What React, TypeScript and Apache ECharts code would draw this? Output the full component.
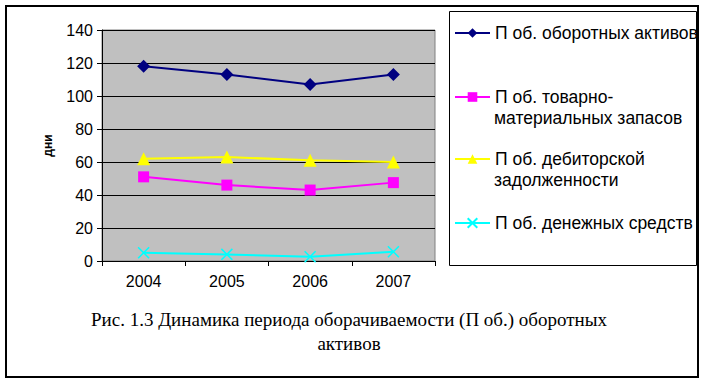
import React, { useEffect, useRef } from "react";
import * as echarts from "echarts";

const years = ["2004", "2005", "2006", "2007"];
const currentAssets = [118, 113, 107, 113];
const inventories = [51, 46, 43, 47.5];
const receivables = [62, 63, 61, 60];
const cash = [5, 4, 2.6, 5.6];

const seriesNames = [
  "П об. оборотных активов",
  "П об. товарно-материальных запасов",
  "П об. дебиторской задолженности",
  "П об. денежных средств",
];
const legendFirstLines = [
  "П об. оборотных активов",
  "П об. товарно-",
  "П об. дебиторской",
  "П об. денежных средств",
];
const legendSecondLines = ["", "материальных запасов", "задолженности", ""];
const captionLines = [
  "Рис. 1.3 Динамика периода оборачиваемости (П об.) оборотных",
  "активов",
];

const SANS = "Liberation Sans, Arial, sans-serif";
const SERIF = "Liberation Serif, Times New Roman, serif";

export default function App() {
  const ref = useRef<HTMLDivElement>(null);
  useEffect(() => {
    if (!ref.current) return;
    const chart = echarts.init(ref.current, undefined, { renderer: "svg" });
    const legendCenters = [33, 97, 159, 223];
    const crossPath = "path://M0,0L10,10M10,0L0,10";
    const option: any = {
      animation: false,
      backgroundColor: "#ffffff",
      grid: {
        left: 102,
        top: 30,
        width: 333,
        height: 231,
        show: true,
        backgroundColor: "#C0C0C0",
        borderColor: "#808080",
        borderWidth: 1,
      },
      xAxis: {
        type: "category",
        data: years,
        boundaryGap: true,
        axisLine: { show: true, lineStyle: { color: "#000", width: 1 } },
        axisTick: { show: true, alignWithLabel: false, length: 5, lineStyle: { color: "#000" } },
        axisLabel: { color: "#000", fontSize: 16, fontFamily: SANS, margin: 12 },
        splitLine: { show: false },
      },
      yAxis: {
        type: "value",
        min: 0,
        max: 140,
        interval: 20,
        name: "дни",
        nameLocation: "middle",
        nameRotate: 90,
        nameGap: 48,
        nameTextStyle: { color: "#000", fontSize: 12, fontWeight: "bold", fontFamily: SANS },
        axisLine: { show: true, lineStyle: { color: "#000", width: 1 } },
        axisTick: { show: true, length: 5, lineStyle: { color: "#000" } },
        axisLabel: { color: "#000", fontSize: 16, fontFamily: SANS, margin: 9 },
        splitLine: { show: true, lineStyle: { color: "#000", width: 1 } },
      },
      legend: seriesNames.map((name, i) => ({
        data: [name],
        left: 454,
        top: legendCenters[i] - 10,
        padding: 0,
        itemWidth: 35,
        itemHeight: 12,
        itemGap: 0,
        selectedMode: false,
        formatter: () => legendFirstLines[i],
        textStyle: { color: "#000", fontSize: 17.5, fontFamily: SANS, lineHeight: 20 },
      })),
      series: [
        {
          name: seriesNames[0],
          type: "line",
          data: currentAssets,
          symbol: "diamond",
          symbolSize: 13,
          lineStyle: { color: "#000080", width: 2 },
          itemStyle: { color: "#000080" },
        },
        {
          name: seriesNames[1],
          type: "line",
          data: inventories,
          symbol: "rect",
          symbolSize: 11,
          lineStyle: { color: "#FF00FF", width: 2 },
          itemStyle: { color: "#FF00FF" },
        },
        {
          name: seriesNames[2],
          type: "line",
          data: receivables,
          symbol: "triangle",
          symbolSize: 13,
          lineStyle: { color: "#FFFF00", width: 2 },
          itemStyle: { color: "#FFFF00" },
        },
        {
          name: seriesNames[3],
          type: "line",
          data: cash,
          symbol: crossPath,
          symbolSize: 11,
          lineStyle: { color: "#00FFFF", width: 2 },
          itemStyle: { color: "#00FFFF", borderColor: "#00FFFF", borderWidth: 1.5 },
        },
      ],
      graphic: [
        {
          type: "rect",
          shape: { x: 6, y: 6, width: 692, height: 371 },
          style: { fill: "none", stroke: "#000", lineWidth: 2 },
          silent: true,
          z: -1,
        },
        {
          type: "rect",
          shape: { x: 449.5, y: 11.5, width: 247, height: 254 },
          style: { fill: "none", stroke: "#000", lineWidth: 1 },
          silent: true,
        },
        ...legendSecondLines
          .map((t, i) => ({ t, i }))
          .filter((o) => o.t)
          .map((o) => ({
            type: "text",
            x: 494,
            y: legendCenters[o.i] + 21,
            style: {
              text: o.t,
              fill: "#000",
              font: `17.5px ${SANS}`,
              textAlign: "left",
              textVerticalAlign: "middle",
            },
          })),
        ...captionLines.map((t, i) => ({
          type: "text",
          x: 349,
          y: 319 + i * 24,
          style: {
            text: t,
            fill: "#000",
            font: `19px ${SERIF}`,
            textAlign: "center",
            textVerticalAlign: "middle",
          },
        })),
      ],
    };
    chart.setOption(option);
    return () => chart.dispose();
  }, []);
  return (
    <div
      ref={ref}
      style={{ position: "absolute", left: 0, top: 0, width: 705, height: 384 }}
    />
  );
}
